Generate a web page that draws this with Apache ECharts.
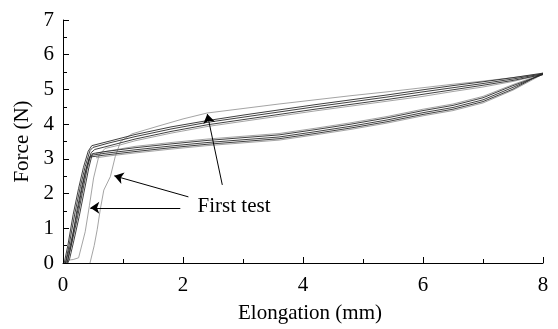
<!DOCTYPE html>
<html>
<head>
<meta charset="utf-8">
<script src="https://cdn.jsdelivr.net/npm/echarts@6/dist/echarts.min.js"></script>
<style>
  html, body { margin: 0; padding: 0; background: #fff; }
  #chart { width: 558px; height: 329px; }
</style>
</head>
<body>
<div id="chart"></div>
<script>
// Force–elongation hysteresis loops, [elongation mm, force N], loading then unloading.
const cycleA = [[0.04,0],[0.1,0.5],[0.2,1.45],[0.29,2.2],[0.37,2.78],[0.45,3.24],[0.5,3.33],[0.75,3.45],[1.2,3.64],[1.8,3.86],[2.4,4.05],[3.0,4.2],[3.6,4.35],[4.2,4.5],[4.8,4.64],[5.4,4.78],[6.0,4.93],[6.5,5.05],[7.0,5.17],[7.5,5.3],[8.0,5.45],
  [7.5,5.06],[7.0,4.7],[6.5,4.48],[6.0,4.33],[5.4,4.12],[4.8,3.94],[4.2,3.78],[3.6,3.63],[3.0,3.55],[2.4,3.47],[1.8,3.37],[1.2,3.26],[0.7,3.16],[0.46,3.1],[0.4,2.7],[0.32,2.0],[0.24,1.3],[0.15,0.6],[0.08,0.1],[0.05,0]];
const cycleB = [[0.07,0],[0.14,0.55],[0.23,1.5],[0.32,2.25],[0.4,2.8],[0.47,3.18],[0.53,3.27],[0.8,3.39],[1.2,3.57],[1.8,3.79],[2.4,3.98],[3.0,4.13],[3.6,4.28],[4.2,4.43],[4.8,4.57],[5.4,4.71],[6.0,4.86],[6.5,4.99],[7.0,5.12],[7.5,5.26],[8.0,5.43],
  [7.5,5.11],[7.0,4.76],[6.5,4.54],[6.0,4.39],[5.4,4.18],[4.8,4.0],[4.2,3.84],[3.6,3.69],[3.0,3.61],[2.4,3.53],[1.8,3.43],[1.2,3.32],[0.7,3.21],[0.49,3.15],[0.43,2.74],[0.35,2.04],[0.27,1.34],[0.18,0.64],[0.11,0.12],[0.08,0]];
const cycleC = [[0.02,0],[0.08,0.5],[0.17,1.4],[0.26,2.15],[0.34,2.75],[0.42,3.22],[0.48,3.38],[0.75,3.5],[1.2,3.7],[1.8,3.92],[2.4,4.1],[3.0,4.26],[3.6,4.41],[4.2,4.56],[4.8,4.7],[5.4,4.84],[6.0,4.99],[6.5,5.11],[7.0,5.22],[7.5,5.34],[8.0,5.47],
  [7.5,5.01],[7.0,4.65],[6.5,4.43],[6.0,4.28],[5.4,4.07],[4.8,3.89],[4.2,3.73],[3.6,3.58],[3.0,3.5],[2.4,3.42],[1.8,3.32],[1.2,3.21],[0.7,3.11],[0.44,3.05],[0.37,2.6],[0.29,1.9],[0.21,1.2],[0.12,0.5],[0.05,0.05],[0.03,0]];
// first tests, drawn lighter
const firstTest1 = [[0.45,0],[0.52,0.5],[0.57,0.96],[0.62,1.53],[0.68,2.1],[0.79,2.49],[0.87,3.06],[0.96,3.5],[1.15,3.72],[1.6,3.95],[2.0,4.15],[2.4,4.32],[3.0,4.45],[3.6,4.58],[4.2,4.7],[4.8,4.82],[5.4,4.93],[6.0,5.05],[6.5,5.15],[7.0,5.24],[7.5,5.34],[8.0,5.45],
  [7.5,5.14],[7.0,4.8],[6.5,4.58],[6.0,4.43],[5.4,4.22],[4.8,4.04],[4.2,3.88],[3.6,3.73],[3.0,3.65],[2.4,3.57],[1.8,3.47],[1.2,3.36],[0.8,3.24],[0.55,3.16]];
const firstTest2 = [[0.08,0.08],[0.17,0.1],[0.26,0.15],[0.37,0.9],[0.44,1.65],[0.51,2.45],[0.6,3.1],[0.7,3.3],[0.95,3.4],[1.2,3.52],[1.8,3.74],[2.4,3.93],[3.0,4.08],[3.6,4.23],[4.2,4.38],[4.8,4.52],[5.4,4.66],[6.0,4.8],[6.5,4.94],[7.0,5.07],[7.5,5.23],[8.0,5.44],
  [7.5,4.98],[7.0,4.61],[6.5,4.39],[6.0,4.24],[5.4,4.03],[4.8,3.85],[4.2,3.69],[3.6,3.54],[3.0,3.46],[2.4,3.38],[1.8,3.28],[1.2,3.17],[0.8,3.09],[0.55,3.03]];

// annotation: label position and arrows (tail -> head), data coords
const labelText = 'First test';
const labelAt = [2.85, 1.62];
const arrows = [
  [[1.955, 1.59], [0.455, 1.59]],
  [[2.09, 1.905], [0.855, 2.51]],
  [[2.655, 2.25], [2.405, 4.29]]
];

const FONT = '"Liberation Serif", "Times New Roman", serif';
const DARK = '#2a2a2a';
const GRAY = '#9a9a9a';

const chart = echarts.init(document.getElementById('chart'));

function loop(data, color) {
  return {
    type: 'line', data: data, showSymbol: false, smooth: false,
    lineStyle: { color: color, width: 0.9 }, silent: true, z: color === DARK ? 3 : 2
  };
}

const series = [
  loop(firstTest1, GRAY),
  loop(firstTest2, GRAY),
  loop(cycleA, DARK),
  loop(cycleB, DARK),
  loop(cycleC, DARK)
];

// arrows + label ride on an empty series so they use the axes
series.push({
  type: 'line', data: [], silent: true, z: 5,
  markLine: {
    silent: true, animation: false,
    symbol: ['none', 'arrow'], symbolSize: 9,
    lineStyle: { color: '#000', width: 1, type: 'solid' },
    itemStyle: { color: '#000' },
    label: { show: false },
    data: arrows.map(a => [{ coord: a[0] }, { coord: a[1] }])
  },
  markPoint: {
    silent: true, animation: false,
    symbol: 'circle', symbolSize: 0,
    label: { show: true, position: 'inside', formatter: labelText, color: '#000', fontFamily: FONT, fontSize: 21 },
    data: [{ coord: labelAt }]
  }
});

chart.setOption({
  animation: false,
  backgroundColor: '#fff',
  grid: { left: 63, right: 15, top: 20, bottom: 66 },
  xAxis: {
    type: 'value', min: 0, max: 8, interval: 2,
    name: 'Elongation (mm)', nameLocation: 'middle', nameGap: 40,
    nameTextStyle: { color: '#000', fontFamily: FONT, fontSize: 21, padding: [0, 0, 0, 14] },
    axisLine: { lineStyle: { color: '#000', width: 1 } },
    axisTick: { inside: true, length: 6, lineStyle: { color: '#000' } },
    minorTick: { show: true, splitNumber: 2, length: 4, lineStyle: { color: '#000' } },
    axisLabel: { color: '#000', fontFamily: FONT, fontSize: 21, margin: 12 },
    splitLine: { show: false }
  },
  yAxis: {
    type: 'value', min: 0, max: 7, interval: 1,
    name: 'Force (N)', nameLocation: 'middle', nameGap: 30,
    nameTextStyle: { color: '#000', fontFamily: FONT, fontSize: 21 },
    axisLine: { show: true, lineStyle: { color: '#000', width: 1 } },
    axisTick: { inside: true, length: 6, lineStyle: { color: '#000' } },
    minorTick: { show: true, splitNumber: 2, length: 4, lineStyle: { color: '#000' } },
    axisLabel: { color: '#000', fontFamily: FONT, fontSize: 21, margin: 9 },
    splitLine: { show: false }
  },
  series: series
});
</script>
</body>
</html>
